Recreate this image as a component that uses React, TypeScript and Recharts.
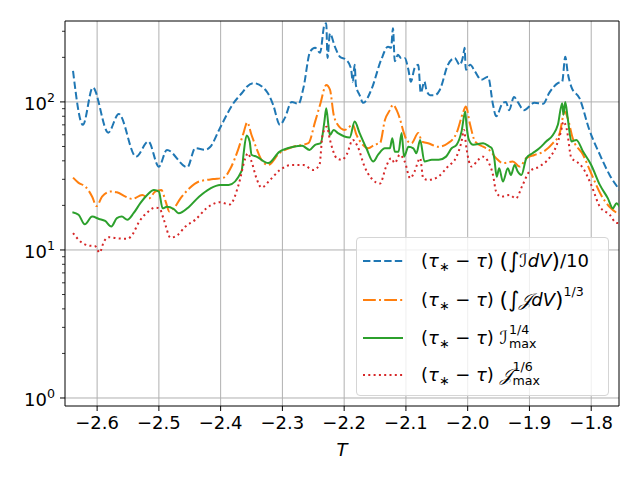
import React from "react";
import { LineChart, Line, XAxis, YAxis, ReferenceLine, Legend } from "recharts";

// (tau* - tau) (int I dV)/10
const blueT = [
  -2.639, -2.623, -2.607, -2.582, -2.565, -2.537, -2.517, -2.5, -2.487, -2.454, -2.441, -2.425, -2.417, -2.401,
  -2.38, -2.364, -2.358, -2.347, -2.325, -2.315, -2.304, -2.296, -2.285, -2.274, -2.266, -2.255, -2.247, -2.239,
  -2.232, -2.229, -2.227, -2.223, -2.215, -2.207, -2.197, -2.189, -2.186, -2.183, -2.181, -2.175, -2.169, -2.156,
  -2.14, -2.129, -2.124, -2.121, -2.118, -2.113, -2.108, -2.102, -2.096, -2.092, -2.086, -2.08, -2.076, -2.07,
  -2.067, -2.061, -2.053, -2.045, -2.032, -2.021, -2.013, -2.007, -2.005, -2.003, -1.996, -1.988, -1.978, -1.967,
  -1.959, -1.954, -1.943, -1.938, -1.933, -1.925, -1.919, -1.909, -1.892, -1.878, -1.868, -1.854, -1.847, -1.842,
  -1.838, -1.832, -1.819, -1.803, -1.786, -1.77, -1.754,
];
const blueV = [
  162, 70, 125, 62, 83, 42.7, 54, 36.5, 47.4, 36.2, 48.7, 47.5, 49.6, 66.7,
  97, 117, 126, 134, 117, 95.6, 70, 78, 100, 97, 124, 219, 232, 215,
  331, 340, 198, 290, 236, 202, 193, 169, 137, 178, 130, 111, 98.6, 121,
  193, 236, 232, 315, 188, 208, 198, 198, 165, 137, 169, 178, 115, 137,
  121, 111, 111, 121, 178, 198, 178, 208, 232, 165, 178, 160, 141, 148,
  95.6, 80, 98.6, 100, 88, 108, 100, 88, 98.6, 97, 115, 134, 137, 202,
  157, 126, 106, 64.7, 44, 32, 25.4,
];

// (tau* - tau) (int J dV)^(1/3)
const orangeT = [
  -2.639, -2.63, -2.619, -2.608, -2.601, -2.592, -2.578, -2.568, -2.554, -2.543, -2.527, -2.516, -2.506, -2.496,
  -2.489, -2.483, -2.476, -2.465, -2.451, -2.435, -2.412, -2.395, -2.384, -2.371, -2.363, -2.357, -2.35, -2.342,
  -2.334, -2.323, -2.305, -2.282, -2.258, -2.247, -2.239, -2.229, -2.223, -2.217, -2.212, -2.199, -2.186, -2.18,
  -2.172, -2.161, -2.15, -2.142, -2.134, -2.126, -2.121, -2.115, -2.11, -2.104, -2.099, -2.091, -2.08, -2.074,
  -2.064, -2.048, -2.032, -2.018, -2.007, -2.003, -1.996, -1.988, -1.975, -1.965, -1.954, -1.943, -1.927, -1.916,
  -1.905, -1.892, -1.878, -1.862, -1.851, -1.843, -1.838, -1.83, -1.813, -1.8, -1.784, -1.77, -1.754,
];
const orangeV = [
  30.8, 28.4, 26.8, 22.9, 19.8, 22.9, 24.8, 24.5, 22.9, 22.1, 23.5, 22.3, 24.8, 25.4,
  21.2, 18.2, 19.1, 22.3, 26, 29, 30.1, 30.8, 35.6, 48.6, 61.6, 72.8, 59.8, 48.6,
  40.6, 37.5, 45, 49.8, 52.6, 73.6, 95.6, 130, 121, 82, 71.8, 64.7, 70, 59.8,
  52.6, 48.6, 51.6, 52.6, 75.5, 88, 95.6, 88, 77.5, 63, 55.4, 52.6, 61.6, 54,
  52.6, 49.8, 52.6, 61.6, 86, 93, 70, 54, 49.8, 47.4, 41.7, 38.6, 39.6, 36.6,
  41.7, 43.8, 46, 52.6, 61.6, 86, 77.5, 57, 43.8, 32.9, 23.5, 19.5, 17.3,
];

// (tau* - tau) I_max^(1/4)
const greenT = [
  -2.64, -2.63, -2.62, -2.608, -2.597, -2.587, -2.577, -2.568, -2.56, -2.551, -2.541, -2.53, -2.519, -2.508,
  -2.5, -2.494, -2.487, -2.476, -2.468, -2.451, -2.435, -2.417, -2.401, -2.387, -2.366, -2.363, -2.358, -2.353,
  -2.35, -2.342, -2.323, -2.305, -2.282, -2.268, -2.256, -2.247, -2.238, -2.232, -2.229, -2.225, -2.223, -2.217,
  -2.21, -2.191, -2.183, -2.175, -2.164, -2.153, -2.145, -2.134, -2.126, -2.122, -2.118, -2.112, -2.107, -2.103,
  -2.096, -2.088, -2.083, -2.077, -2.07, -2.058, -2.047, -2.035, -2.026, -2.018, -2.01, -2.004, -2.002, -1.998,
  -1.991, -1.975, -1.965, -1.961, -1.957, -1.953, -1.949, -1.943, -1.935, -1.93, -1.924, -1.919, -1.913, -1.905,
  -1.895, -1.884, -1.873, -1.862, -1.854, -1.847, -1.845, -1.842, -1.838, -1.832, -1.824, -1.813, -1.8, -1.786,
  -1.773, -1.765, -1.759, -1.754,
];
const greenV = [
  18, 17.3, 14.9, 16.8, 16.2, 15.7, 14.4, 16.4, 16.8, 16, 17.7, 20.7, 23.5, 25.4,
  24.8, 19.1, 19.6, 18.9, 17.7, 19.6, 22.9, 26, 27.5, 27.5, 34.2, 44, 59.2, 54,
  44, 42.7, 38.6, 46, 49.8, 50.5, 47.4, 51.3, 52.6, 73.6, 90.5, 66.4, 59.8, 64.7,
  61.6, 57.5, 73.6, 61.6, 48.6, 39.6, 44, 48.6, 48.6, 56.9, 46, 46, 61.6, 42.7,
  49.8, 48.6, 45, 55.4, 39.6, 40.6, 40.6, 42.7, 48.6, 51.3, 63, 86, 70, 55.4,
  51.3, 52.6, 50, 48.6, 41.7, 31.2, 35.6, 29, 35.6, 32.1, 37.5, 33.9, 32.1, 41.7,
  45, 48.6, 54, 59.8, 70, 98, 82, 100, 77.5, 54, 55.4, 46, 37.5, 27.5,
  22.3, 19.1, 20.7, 19.6,
];

// (tau* - tau) J_max^(1/6)
const redT = [
  -2.639, -2.627, -2.613, -2.603, -2.596, -2.589, -2.581, -2.568, -2.551, -2.543, -2.532, -2.519, -2.506, -2.499,
  -2.492, -2.481, -2.47, -2.457, -2.441, -2.423, -2.417, -2.401, -2.385, -2.371, -2.36, -2.356, -2.35, -2.342,
  -2.334, -2.32, -2.304, -2.285, -2.266, -2.25, -2.24, -2.235, -2.228, -2.223, -2.212, -2.204, -2.196, -2.186,
  -2.178, -2.167, -2.156, -2.142, -2.132, -2.124, -2.118, -2.11, -2.102, -2.093, -2.086, -2.077, -2.072, -2.064,
  -2.048, -2.032, -2.018, -2.01, -2.006, -2.002, -1.994, -1.983, -1.975, -1.967, -1.959, -1.954, -1.946, -1.932,
  -1.922, -1.911, -1.9, -1.884, -1.868, -1.857, -1.849, -1.845, -1.84, -1.832, -1.824, -1.813, -1.8, -1.786,
  -1.77, -1.759, -1.754,
];
const redV = [
  13, 11.4, 10.7, 10.6, 9.6, 11.4, 12.2, 12, 11.9, 12.7, 15.5, 17.9, 19.3, 19.1,
  16, 12.1, 12.6, 14.4, 16, 19.1, 19.9, 21, 20.3, 27.5, 41.7, 45, 39.6, 30.5,
  26.4, 29.7, 34.7, 37.5, 37.5, 34.7, 37.5, 59.8, 68, 55.4, 41.7, 40.6, 44, 55.4,
  49.8, 36.6, 30.5, 28.1, 36.6, 41.7, 38.6, 44, 39.6, 30.5, 33.9, 41.7, 30.5, 29.7,
  31.2, 36.6, 42.7, 54, 64.7, 48.6, 36.6, 40.6, 42.7, 39.6, 32.1, 24.8, 22.9, 23.5,
  22.3, 27.5, 33.9, 36.6, 41.7, 49.8, 63, 73.6, 66.4, 41.7, 39.6, 35.6, 27.5, 19.6,
  17.3, 15.2, 15.2,
];

const xTicks = [-2.6, -2.5, -2.4, -2.3, -2.2, -2.1, -2.0, -1.9, -1.8];
const yMajor = [1, 10, 100];
const yTicks = [1, 2, 3, 4, 5, 6, 7, 8, 9, 10, 20, 30, 40, 50, 60, 70, 80, 90, 100, 200, 300];
const xDomain = [-2.652, -1.755];
const yDomain = [0.883, 352];

const FONT = "'DejaVu Sans', sans-serif";

const toRows = (ts: number[], vs: number[]) => ts.map((t, i) => ({ t, v: vs[i] }));

const series = [
  { key: "blue", rows: toRows(blueT, blueV), color: "#1f77b4", dash: "7.4 3.2" },
  { key: "orange", rows: toRows(orangeT, orangeV), color: "#ff7f0e", dash: "12.8 3.2 2 3.2" },
  { key: "green", rows: toRows(greenT, greenV), color: "#2ca02c", dash: undefined },
  { key: "red", rows: toRows(redT, redV), color: "#d62728", dash: "2 3.3" },
];

const fmtX = (v: number) => v.toFixed(1).replace("-", "\u2212");

const XTick = (props: any) => {
  const { x, y, payload } = props;
  return (
    <g>
      <line x1={x} x2={x} y1={y} y2={y + 5} stroke="#000" strokeWidth={1} />
      <text x={x} y={y + 23} textAnchor="middle" fontSize={18} fill="#000" fontFamily={FONT}>
        {fmtX(payload.value)}
      </text>
    </g>
  );
};

const YTick = (props: any) => {
  const { x, y, payload } = props;
  const major = yMajor.includes(payload.value);
  if (!major) {
    return <line x1={x - 3} x2={x} y1={y} y2={y} stroke="#000" strokeWidth={0.8} />;
  }
  const exp = Math.round(Math.log10(payload.value));
  return (
    <g>
      <line x1={x - 5} x2={x} y1={y} y2={y} stroke="#000" strokeWidth={1} />
      <text x={x - 10} y={y + 8} textAnchor="end" fontSize={18} fill="#000" fontFamily={FONT}>
        10
        <tspan dy={-8} fontSize={12.6}>
          {exp}
        </tspan>
      </text>
    </g>
  );
};

const Tau = () => <i>τ</i>;
const Pre = () => (
  <span>
    (<Tau />
    <span style={{ fontSize: "0.7em", position: "relative", top: "0.3em" }}>∗</span> − <Tau />)&nbsp;
  </span>
);
const Big = ({ children }: { children: React.ReactNode }) => (
  <span style={{ fontSize: "1.2em", lineHeight: 0, position: "relative", top: "0.05em" }}>{children}</span>
);
const Sup = ({ children }: { children: React.ReactNode }) => (
  <span style={{ fontSize: 12.6, position: "relative", top: -10 }}>{children}</span>
);
const SupSub = ({ sup, sub }: { sup: string; sub: string }) => (
  <span
    style={{
      display: "inline-flex",
      flexDirection: "column",
      fontSize: 12.6,
      lineHeight: "14px",
      position: "relative",
      top: -10,
      marginLeft: 1,
    }}
  >
    <span>{sup}</span>
    <span>{sub}</span>
  </span>
);

const labels = [
  <span>
    <Pre />
    <Big>(∫</Big>
    <i>ℐ</i>
    <i>dV</i>
    <Big>)</Big>/10
  </span>,
  <span>
    <Pre />
    <Big>(∫</Big>
    <i>𝒥</i>
    <i>dV</i>
    <Big>)</Big>
    <Sup>1/3</Sup>
  </span>,
  <span>
    <Pre />
    <i>ℐ</i>
    <SupSub sup="1/4" sub="max" />
  </span>,
  <span>
    <Pre />
    <i>𝒥</i>
    <SupSub sup="1/6" sub="max" />
  </span>,
];
const rowCenters = [23, 62, 100, 137];

const LegendBox = () => (
  <div
    style={{
      position: "relative",
      width: 253,
      height: 159,
      boxSizing: "border-box",
      border: "1px solid #d5d5d5",
      borderRadius: 4,
      background: "rgba(255,255,255,0.8)",
      fontFamily: FONT,
      fontSize: 18,
      color: "#000",
    }}
  >
    {series.map((s, i) => (
      <div key={s.key}>
        <svg style={{ position: "absolute", left: 6, top: rowCenters[i] - 5 }} width={40} height={10}>
          <line x1={0} x2={40} y1={5} y2={5} stroke={s.color} strokeWidth={2} strokeDasharray={s.dash} />
        </svg>
        <div
          style={{
            position: "absolute",
            left: 64,
            top: rowCenters[i] - 12,
            height: 24,
            lineHeight: "24px",
            whiteSpace: "nowrap",
          }}
        >
          {labels[i]}
        </div>
      </div>
    ))}
  </div>
);

export default function App() {
  return (
    <div style={{ position: "absolute", left: 0, top: 0, fontFamily: FONT, background: "#fff" }}>
      <LineChart width={640} height={480} margin={{ top: 21, right: 21, bottom: 0, left: 0 }}>
        <XAxis
          dataKey="t"
          type="number"
          domain={xDomain}
          allowDataOverflow
          ticks={xTicks}
          interval={0}
          tick={<XTick />}
          tickLine={false}
          tickSize={0}
          tickMargin={0}
          height={74}
          axisLine={{ stroke: "#000", strokeWidth: 1 }}
          label={{ value: "T", position: "insideBottom", offset: 24, fill: "#000", fontSize: 18, fontStyle: "italic", fontFamily: FONT }}
        />
        <YAxis
          dataKey="v"
          type="number"
          scale="log"
          domain={yDomain}
          allowDataOverflow
          ticks={yTicks}
          interval={0}
          tick={<YTick />}
          tickLine={false}
          tickSize={0}
          tickMargin={0}
          width={65}
          axisLine={{ stroke: "#000", strokeWidth: 1 }}
        />
        {xTicks.map((t) => (
          <ReferenceLine key={"gx" + t} x={t} stroke="#b0b0b0" strokeWidth={1} />
        ))}
        {yMajor.map((v) => (
          <ReferenceLine key={"gy" + v} y={v} stroke="#b0b0b0" strokeWidth={1} />
        ))}
        <ReferenceLine x={xDomain[1]} stroke="#000" strokeWidth={1} />
        <ReferenceLine y={yDomain[1]} stroke="#000" strokeWidth={1} />
        {series.map((s) => (
          <Line
            key={s.key}
            data={s.rows}
            dataKey="v"
            type="monotone"
            stroke={s.color}
            strokeWidth={2}
            strokeDasharray={s.dash}
            dot={false}
            activeDot={false}
            isAnimationActive={false}
          />
        ))}
        <Legend
          layout="vertical"
          align="center"
          verticalAlign="middle"
          wrapperStyle={{ left: 356, top: 237, width: 253, height: 159 }}
          content={() => <LegendBox />}
        />
      </LineChart>
    </div>
  );
}
